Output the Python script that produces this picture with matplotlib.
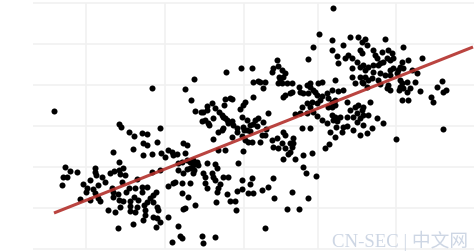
import numpy as np
import matplotlib
matplotlib.use("Agg")
import matplotlib.pyplot as plt

points = [
    # left cluster
    (119, 128), (121, 125), (129, 120), (134, 116), (133, 103), (113, 100), (119, 90),
    (65, 85), (70, 81), (77, 80), (63, 75), (67, 75), (62, 67), (95, 84), (95, 80),
    (96, 77), (102, 75), (110, 79), (114, 81), (119, 82), (123, 84), (120, 78), (125, 77),
    (122, 70), (105, 70), (90, 72), (83, 68), (87, 64), (86, 60), (93, 63), (98, 67),
    (95, 59), (112, 64), (113, 60), (118, 58), (126, 60), (129, 64), (135, 64), (137, 73),
    (80, 53), (90, 52), (98, 54), (100, 51), (113, 55), (119, 52), (123, 51), (130, 51),
    (134, 55), (138, 52), (137, 45), (130, 46), (120, 45), (108, 42), (115, 40), (130, 41),
    (135, 40), (133, 28), (118, 24), (54, 141), (152, 164),
    # lower middle
    (142, 119), (147, 118), (143, 109), (147, 107), (157, 110), (143, 97), (152, 98),
    (161, 99), (165, 95), (168, 102), (172, 100), (173, 97), (177, 98), (183, 109),
    (187, 107), (185, 99), (178, 89), (182, 90), (187, 92), (190, 90), (193, 92), (197, 90),
    (198, 87), (193, 87), (190, 84), (194, 82), (193, 79), (187, 83), (183, 79), (178, 82),
    (207, 89), (215, 88), (217, 84), (212, 79), (203, 79), (205, 75), (213, 75), (215, 72),
    (223, 75), (228, 75), (220, 68), (218, 64), (205, 69), (207, 64), (217, 60), (227, 58),
    (230, 51), (235, 51), (237, 61), (236, 42), (216, 50), (195, 47), (188, 55), (182, 59),
    (183, 43), (185, 44), (173, 69), (175, 70), (168, 66), (182, 69), (190, 69), (142, 65),
    (147, 65), (142, 60), (156, 60), (153, 57), (150, 54), (147, 50), (153, 50), (144, 47),
    (157, 45), (158, 42), (145, 42), (145, 37), (153, 35), (157, 34), (160, 30), (168, 35),
    (143, 32), (156, 25), (178, 26), (202, 16), (215, 15), (180, 16), (182, 14), (152, 80),
    (160, 82), (213, 113), (218, 120), (222, 122), (232, 115), (237, 120), (218, 102),
    (225, 102), (238, 89), (172, 10), (203, 9), (160, 124),
    # upper middle
    (185, 163), (194, 173), (226, 180), (241, 184), (252, 184), (272, 180), (273, 184),
    (277, 192), (278, 186), (279, 175), (278, 169), (258, 171), (260, 170), (265, 170),
    (253, 170), (263, 164), (253, 155), (245, 150), (243, 147), (240, 143), (230, 154),
    (232, 153), (225, 153), (224, 147), (215, 144), (212, 149), (207, 146), (207, 142),
    (203, 140), (201, 140), (195, 141), (191, 152), (219, 140), (222, 137), (223, 135),
    (225, 134), (227, 132), (232, 131), (228, 129), (233, 127), (223, 124), (213, 134),
    (208, 129), (209, 127), (202, 131), (205, 132), (237, 124),
    # centre, around the fit
    (242, 135), (247, 132), (250, 127), (253, 128), (257, 126), (255, 132), (258, 134),
    (263, 130), (268, 139), (243, 125), (244, 122), (247, 122), (250, 121), (262, 117),
    (265, 117), (266, 123), (242, 116), (245, 112), (248, 110), (252, 110), (260, 110),
    (243, 101), (272, 112), (277, 114), (283, 120), (285, 117), (293, 114), (290, 109),
    (293, 109), (282, 109), (273, 105), (278, 104), (285, 104), (292, 105), (290, 100),
    (288, 98), (283, 93), (295, 93), (303, 97), (310, 124), (302, 124), (317, 136),
    (295, 138), (300, 139), (307, 139), (312, 99), (303, 85), (306, 79), (316, 76),
    (325, 104), (329, 108), (327, 129), (332, 137), (335, 135), (337, 131), (340, 135),
    (333, 132), (347, 135), (342, 120), (336, 125), (343, 125), (347, 126), (242, 72),
    (252, 74), (250, 68), (273, 74), (248, 59), (253, 59), (262, 62), (268, 65), (292, 60),
    (274, 54), (308, 54), (287, 43), (299, 43), (242, 63), (265, 24), (313, 140),
    (322, 132), (330, 120), (335, 115),
    # right middle
    (313, 205), (332, 212), (308, 193), (332, 202), (337, 196), (338, 189), (335, 172),
    (338, 161), (332, 162), (327, 159), (322, 156), (328, 154), (332, 150), (335, 152),
    (335, 147), (332, 145), (328, 145), (310, 145), (307, 149), (312, 150), (317, 149),
    (320, 152), (317, 157), (313, 162), (310, 165), (310, 169), (307, 167), (318, 169),
    (322, 170), (315, 160), (308, 159), (303, 159), (300, 160), (299, 165), (292, 160),
    (290, 159), (285, 157), (283, 155), (292, 169), (287, 169), (282, 169), (280, 172),
    (283, 175), (285, 179), (282, 182), (302, 145), (319, 218), (333, 244),
    (350, 142), (353, 135), (357, 139), (360, 134), (363, 137), (368, 137), (357, 130),
    (363, 127), (372, 124), (377, 134), (367, 119), (360, 117), (353, 122), (362, 142),
    (383, 129), (443, 123), (396, 113),
    # upper right
    (385, 213), (403, 205), (422, 194), (350, 215), (358, 215), (362, 210), (365, 213),
    (343, 207), (348, 197), (360, 202), (362, 199), (367, 207), (373, 202), (375, 197),
    (377, 194), (382, 200), (388, 202), (392, 199), (387, 194), (390, 192), (393, 194),
    (383, 190), (380, 189), (378, 187), (402, 190), (408, 192), (400, 185), (398, 182),
    (397, 179), (403, 184), (393, 184), (390, 182), (380, 179), (373, 180), (385, 177),
    (390, 177), (400, 172), (402, 169), (407, 170), (412, 182), (415, 170), (417, 179),
    (410, 164), (403, 164), (400, 165), (399, 162), (407, 160), (420, 161), (437, 165),
    (442, 171), (446, 162), (443, 160), (431, 155), (433, 150), (402, 152), (408, 152),
    (390, 162), (388, 167), (387, 164), (368, 172), (372, 174), (365, 175), (360, 175),
    (362, 170), (363, 169), (352, 175), (367, 165), (355, 169), (343, 162), (347, 150),
    (358, 147), (370, 150), (363, 145), (355, 145), (352, 184), (357, 190), (352, 194),
    (363, 187), (368, 185), (360, 185), (365, 182), (345, 194), (373, 187), (378, 172),
    (380, 168),
]

# fitted trend line, read at its two ends
trend_x = [54, 473]
trend_y = [39, 205]

x, y = np.array(points, dtype=float).T

fig = plt.figure(figsize=(4.74, 2.52), dpi=100)
ax = fig.add_axes([0, 0, 1, 1])
ax.set_xlim(0, 474)
ax.set_ylim(0, 252)
ax.axis("off")

# light background grid
grid_y = [249, 208, 167, 126, 85, 44, 3]
grid_x = [86, 165, 244, 318, 396]
ax.hlines(grid_y, 33, 474, color="#f1f1f1", lw=1.2, zorder=0)
ax.vlines(grid_x, 3, 249, color="#f1f1f1", lw=1.2, zorder=0)

ax.scatter(x, y, s=19, c="black", linewidths=0, zorder=2)
ax.plot(trend_x, trend_y, color="#b3302b", lw=2.2, alpha=0.9,
        solid_capstyle="butt", zorder=3)

# watermark
ax.text(468, 5, "CN-SEC | 中文网", ha="right", va="baseline", fontsize=13.5,
        color="#cdd6e4", family=["Liberation Serif", "Noto Sans CJK SC"], zorder=4)

fig.savefig("out.png", dpi=100)
plt.close(fig)
